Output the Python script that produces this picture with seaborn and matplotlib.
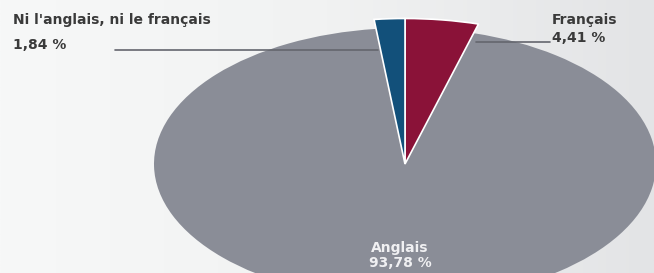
import numpy as np
import matplotlib
matplotlib.use("Agg")
from matplotlib import pyplot as plt
from matplotlib.colors import LinearSegmentedColormap
import seaborn as sns

# data
languages = ["Français", "Ni l'anglais, ni le français", "Anglais"]
shares = [4.41, 1.84, 93.78]
share_labels = ["4,41 %", "1,84 %", "93,78 %"]
colors = ["#8a1238", "#12507a", "#8a8d97"]

sns.set_theme(style="white")
plt.rcParams['font.family'] = ['DejaVu Sans']

W, H = 654, 273
fig = plt.figure(figsize=(W / 100, H / 100), dpi=100)

# soft background gradient
bg = fig.add_axes([0, 0, 1, 1])
grad = np.linspace(0, 1, 256).reshape(1, -1)
cmap = LinearSegmentedColormap.from_list("bg", ["#f7f8f8", "#f1f2f2", "#e3e4e6"])
bg.imshow(grad, aspect="auto", cmap=cmap, extent=[0, 1, 0, 1])
bg.set_axis_off()

ax = fig.add_axes([0, 0, 1, 1])
ax.patch.set_alpha(0)

# pie centre / radii in pixels -> data limits so the circle becomes an ellipse
cx, cy, rx, ry = 405, 164, 251, 136

start = 90 - shares[0] * 3.6
wedges, _ = ax.pie(shares, colors=colors, startangle=start, counterclock=True,
                   radius=1, wedgeprops=dict(linewidth=0))
ax.set_aspect("auto")
ax.set_xlim(-cx / rx, (W - cx) / rx)
ax.set_ylim(-(H - cy) / ry, cy / ry)
ax.set_axis_off()
for w in wedges[:2]:
    w.set_radius(1.07)
    w.set_edgecolor("white")
    w.set_linewidth(1.2)
    w.set_zorder(3)


def px(x, y):
    return x / W, 1 - y / H


txt = dict(color="#3a3a3a", fontsize=10, fontweight="bold", va="center", ha="left")
fig.text(*px(13, 20), languages[1], **txt)
fig.text(*px(13, 45), share_labels[1], **txt)
fig.text(*px(552, 20), languages[0], **txt)
fig.text(*px(552, 38), share_labels[0], **txt)
lab = dict(color="#f0f0f2", fontsize=10, fontweight="bold", ha="center", va="center")
fig.text(*px(400, 248), languages[2], **lab)
fig.text(*px(400, 263), share_labels[2], **lab)

# leader lines
for (x0, y0), (x1, y1) in [((115, 50), (378, 50)), ((476, 42), (550, 42))]:
    a, b = px(x0, y0)
    c, d = px(x1, y1)
    fig.add_artist(plt.Line2D([a, c], [b, d], color="#64666e", linewidth=1.2, zorder=2))

fig.savefig("out.png", dpi=100)
